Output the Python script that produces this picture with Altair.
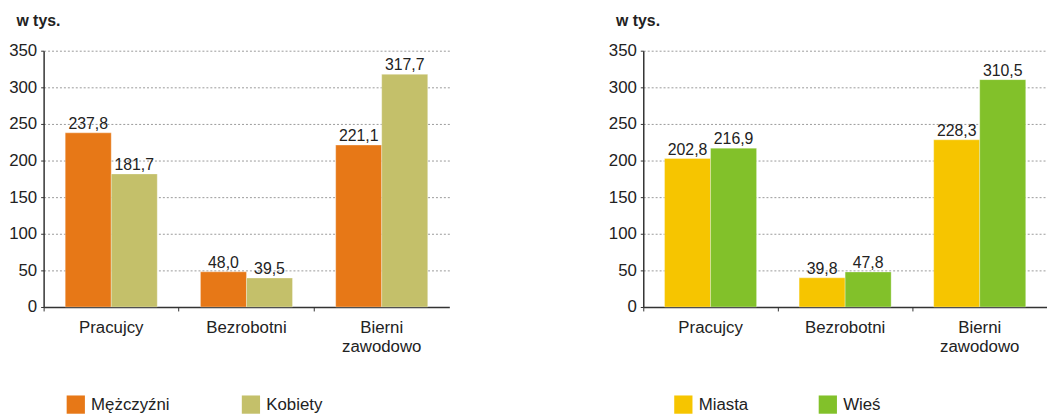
import altair as alt
import pandas as pd

categories = ["Pracujcy", "Bezrobotni", "Bierni zawodowo"]
men = [237.8, 48.0, 221.1]
women = [181.7, 39.5, 317.7]
city = [202.8, 39.8, 228.3]
village = [216.9, 47.8, 310.5]

FONT = "Liberation Sans"
TXT = "#222222"
BAR_W = 46.5


def make_df(s1name, s1, s2name, s2):
    rows = []
    for c, v in zip(categories, s1):
        rows.append({"category": c, "series": s1name, "value": v})
    for c, v in zip(categories, s2):
        rows.append({"category": c, "series": s2name, "value": v})
    return pd.DataFrame(rows)


def panel(df, names, colors, width, xrange, lx, colpad):
    base = alt.Chart(df).transform_calculate(
        label="replace(format(datum.value, '.1f'), '.', ',')"
    ).encode(
        x=alt.X(
            "category:N",
            sort=categories,
            scale=alt.Scale(type="band", paddingInner=0, paddingOuter=0, range=[0, xrange]),
            axis=alt.Axis(
                title=None,
                labelAngle=0,
                labelFont=FONT,
                labelFontSize=17,
                labelColor=TXT,
                labelPadding=9,
                labelLineHeight=19,
                labelExpr="datum.value == 'Bierni zawodowo' ? ['Bierni', 'zawodowo'] : datum.label",
                bandPosition=0,
                tickSize=4,
                tickColor="#333333",
                domain=False,
            ),
        ),
        y=alt.Y(
            "value:Q",
            scale=alt.Scale(domain=[0, 350], nice=False),
            axis=alt.Axis(
                title="w tys.",
                titleAngle=0,
                titleAlign="left",
                titleBaseline="bottom",
                titleX=-28,
                titleY=-22,
                titleFont=FONT,
                titleFontSize=16,
                titleFontWeight="bold",
                titleColor=TXT,
                values=[0, 50, 100, 150, 200, 250, 300, 350],
                labelFont=FONT,
                labelFontSize=17,
                labelColor=TXT,
                labelPadding=4,
                tickSize=3,
                tickColor="#333333",
                domainColor="#333333",
                domainWidth=1.5,
                grid=True,
                gridColor=alt.condition(
                    "datum.value === 0", alt.value("#333333"), alt.value("#9a9a9a")
                ),
                gridDash=alt.condition(
                    "datum.value === 0", alt.value([10, 0]), alt.value([2, 2])
                ),
                gridWidth=alt.condition(
                    "datum.value === 0", alt.value(1.5), alt.value(1)
                ),
            ),
        ),
    )
    color = alt.Color(
        "series:N",
        sort=names,
        scale=alt.Scale(domain=names, range=colors),
        legend=alt.Legend(
            title=None,
            orient="none",
            direction="horizontal",
            legendX=lx,
            legendY=348,
            symbolType="square",
            symbolSize=340,
            symbolStrokeWidth=0,
            labelFont=FONT,
            labelFontSize=17,
            labelColor=TXT,
            labelOffset=6,
            columnPadding=colpad,
        ),
    )
    layers = []
    for name, off in zip(names, [-BAR_W / 2, BAR_W / 2]):
        sub = base.transform_filter(alt.datum.series == name)
        layers.append(
            sub.mark_bar(
                width=BAR_W, xOffset=off, stroke="white", strokeWidth=0.5, strokeOpacity=0.6
            ).encode(color=color)
        )
        layers.append(
            sub.mark_text(
                baseline="alphabetic", dy=-4, xOffset=off, font=FONT, fontSize=16, color=TXT
            ).encode(text="label:N")
        )
    return alt.layer(*layers).properties(width=width, height=259)


left = panel(
    make_df("Mężczyźni", men, "Kobiety", women),
    ["Mężczyźni", "Kobiety"],
    ["#E77817", "#C4C06A"],
    410,
    410,
    23,
    72,
)
right = panel(
    make_df("Miasta", city, "Wieś", village),
    ["Miasta", "Wieś"],
    ["#F6C500", "#82C12A"],
    385,
    408,
    31,
    70,
)

chart = (
    alt.hconcat(left, right, spacing=160)
    .resolve_scale(color="independent")
    .properties(padding={"left": 0, "top": 3, "right": 0, "bottom": 0})
    .configure_view(stroke=None)
)

chart.save("out.html", embed_options={"renderer": "svg", "actions": False})
